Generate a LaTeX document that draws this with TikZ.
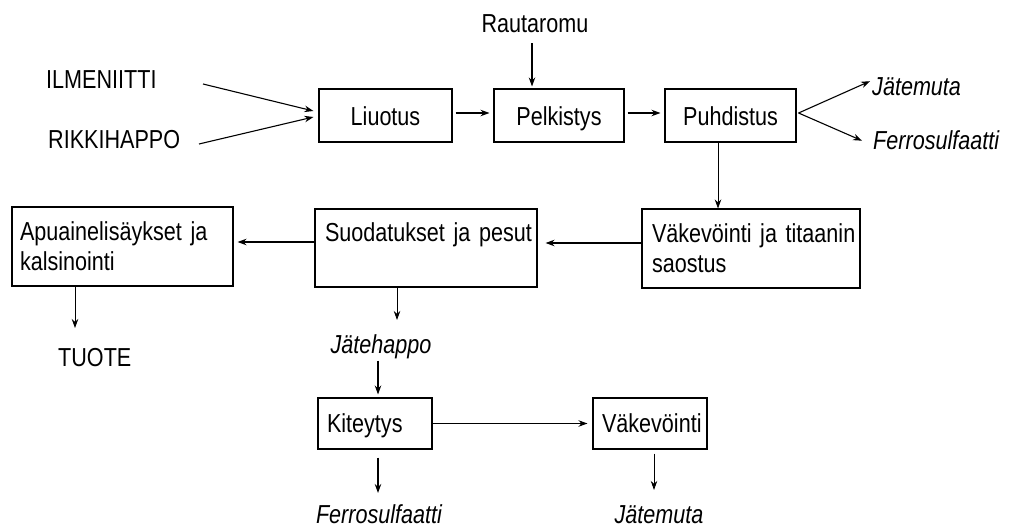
\documentclass[tikz,border=0pt]{standalone}
\usepackage{fontspec}
\setmainfont{Liberation Sans}[FakeStretch=0.83]
\usetikzlibrary{arrows.meta}
\begin{document}
\begin{tikzpicture}[x=1pt,y=-1pt,
 every node/.style={font=\fontsize{26}{30}\selectfont},
 box/.style={draw, line width=1.1pt, inner sep=0pt, align=center, text height=26pt, text depth=5pt},
 lbox/.style={draw, line width=1.1pt, inner xsep=9pt, inner ysep=0pt, align=left},
 lbl/.style={inner sep=0pt},
 itl/.style={inner sep=0pt, font=\fontsize{26}{30}\selectfont\itshape},
 arr/.style={line width=1.1pt, -{Stealth[length=9pt,width=6.5pt]}},
 tarr/.style={line width=0.8pt, -{Stealth[length=9pt,width=6.5pt]}},
]
\useasboundingbox (0,0) rectangle (1011,529);
% boxes
\node[box, minimum width=133pt, minimum height=53pt] (liu) at (385.5,115.5) {Liuotus};
\node[box, minimum width=130pt, minimum height=53pt] (pel) at (559,115.5) {Pelkistys};
\node[box, minimum width=131pt, minimum height=53pt] (puh) at (730.5,115.5) {Puhdistus};
\node[lbox, inner xsep=10pt, text width=198pt, minimum height=79pt] (vak) at (751,248.5) {\mbox{Väkevöinti ja titaanin}\\\mbox{saostus}};
\node[lbox, inner xsep=10pt, text width=202pt, minimum height=78pt, text height=19pt, text depth=31pt] (suo) at (426,248) {\mbox{Suodatukset ja pesut}};
\node[lbox, inner xsep=8pt, text width=205pt, minimum height=79pt] (apu) at (122.5,246.5) {\mbox{Apuainelisäykset ja}\\\mbox{kalsinointi}};
\node[lbox, text width=96pt, minimum height=51pt, text height=22pt, text depth=5pt] (kit) at (375,423.5) {Kiteytys};
\node[lbox, text width=96pt, minimum height=51pt, text height=22pt, text depth=5pt] (vk2) at (650,423.5) {Väkevöinti};
% labels
\node[lbl, anchor=base west] (ilm) at (46,89) {ILMENIITTI};
\node[lbl, anchor=base west] (rik) at (48,149) {RIKKIHAPPO};
\node[lbl, anchor=base] (rau) at (535,33) {Rautaromu};
\node[itl, anchor=base west] (jm1) at (872,96) {Jätemuta};
\node[itl, anchor=base west] (fs1) at (873,150) {Ferrosulfaatti};
\node[lbl, anchor=base west] (tuo) at (58,366) {TUOTE};
\node[itl, anchor=base] (jh) at (381,353) {Jätehappo};
\node[itl, anchor=base] (fs2) at (379,523) {Ferrosulfaatti};
\node[itl, anchor=base] (jm2) at (659,523) {Jätemuta};
% free ends
\coordinate (ilms) at (203,84);
\coordinate (riks) at (199,144);
\coordinate (tuoa) at (75,328);
% connectors
\draw[arr] (ilms) -- ([xshift=-5pt,yshift=4.5pt]liu.west);
\draw[arr] (riks) -- ([xshift=-5pt,yshift=-1.5pt]liu.west);
\draw[arr, shorten <=3pt, shorten >=4pt] ([yshift=2.5pt]liu.east) -- ([yshift=2.5pt]pel.west);
\draw[arr, shorten <=3pt, shorten >=4pt] ([yshift=2.5pt]pel.east) -- ([yshift=2.5pt]puh.west);
\draw[arr, shorten >=2pt] ([xshift=-3pt,yshift=-10pt]rau.south) -- ([xshift=-3pt]rau.south |- pel.north);
\draw[arr] ([xshift=2pt,yshift=2.5pt]puh.east) -- ([xshift=-2pt,yshift=6pt]jm1.west);
\draw[arr] ([xshift=2pt,yshift=2.5pt]puh.east) -- ([xshift=-11pt]fs1.west);
\draw[tarr] ([xshift=-12.5pt]puh.south) -- ([xshift=-12.5pt]puh.south |- vak.north);
\draw[arr, shorten >=8pt] ([yshift=5.5pt]vak.west) -- ([yshift=5.5pt]vak.west -| suo.east);
\draw[arr, shorten >=4pt] ([yshift=6pt]suo.west) -- ([yshift=6pt]suo.west -| apu.east);
\draw[tarr] ([xshift=-47.5pt]apu.south) -- (tuoa);
\draw[tarr, shorten >=14pt] ([xshift=-29pt]suo.south) -- ([xshift=-29pt]suo.south |- jh.north);
\draw[arr, shorten <=2pt, shorten >=3pt] ([xshift=3pt]kit.north |- jh.south) -- ([xshift=3pt]kit.north);
\draw[arr, shorten >=5pt] (kit.east) -- (vk2.west);
\draw[arr, shorten <=8pt, shorten >=11pt] ([xshift=3pt]kit.south) -- ([xshift=3pt]kit.south |- fs2.north);
\draw[tarr, shorten <=4pt, shorten >=15pt] ([xshift=4pt]vk2.south) -- ([xshift=4pt]vk2.south |- jm2.north);
\end{tikzpicture}
\end{document}
